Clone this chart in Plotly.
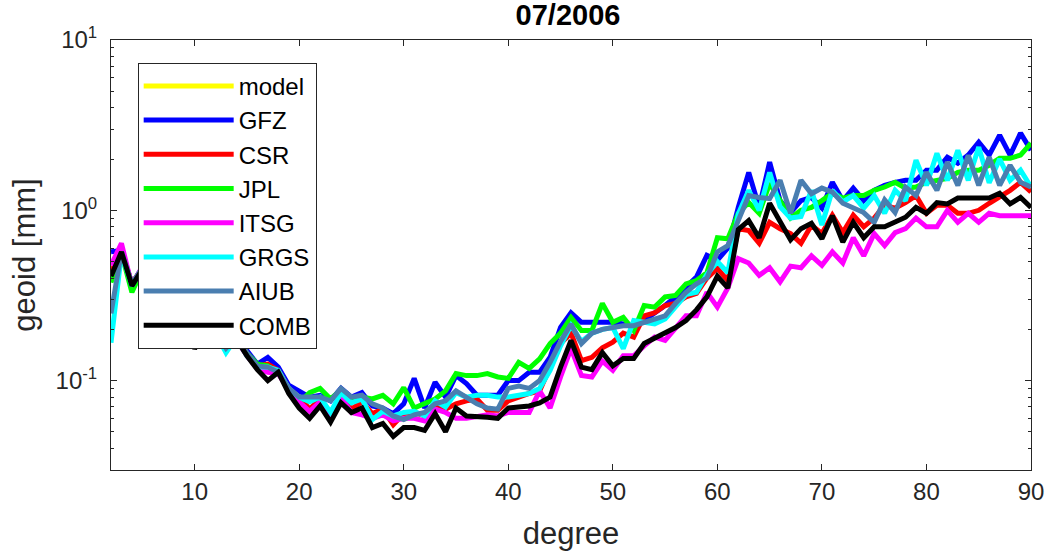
import plotly.graph_objects as go

degrees = list(range(2, 91))

series_names = ["model", "GFZ", "CSR", "JPL", "ITSG", "GRGS", "AIUB", "COMB"]
series_colors = ["#FFFF00", "#0000FF", "#FF0000", "#00FF00", "#FF00FF", "#00FFFF", "#4A7EB0", "#000000"]

model = [None] * len(degrees)

gfz = [0.57, 0.58, 0.37, 0.46, 0.40, 0.34, 0.30, 0.24, 0.19, 0.195,
       0.19, 0.16, 0.18, 0.15, 0.125, 0.137, 0.12, 0.094, 0.087, 0.08,
       0.082, 0.076, 0.09, 0.08, 0.085, 0.071, 0.069, 0.064, 0.073, 0.103,
       0.069, 0.098, 0.08, 0.107, 0.096, 0.082, 0.082, 0.082, 0.10, 0.10,
       0.112, 0.112, 0.137, 0.205, 0.25, 0.22, 0.22, 0.22, 0.22, 0.215,
       0.21, 0.226, 0.248, 0.276, 0.31, 0.353, 0.405, 0.544, 0.51, 0.60,
       1.04, 1.67, 1.04, 1.92, 1.14, 0.97, 1.14, 1.19, 1.03, 1.46,
       1.14, 1.35, 1.14, 1.31, 1.40, 1.46, 1.50, 1.50, 1.72, 1.72,
       2.05, 1.89, 2.11, 2.51, 2.11, 2.76, 2.11, 2.84, 2.25]

csr = [0.43, 0.58, 0.37, 0.46, 0.40, 0.34, 0.30, 0.24, 0.18, 0.19,
       0.19, 0.155, 0.18, 0.145, 0.122, 0.125, 0.115, 0.09, 0.08, 0.068,
       0.078, 0.062, 0.082, 0.068, 0.075, 0.064, 0.068, 0.055, 0.064, 0.065,
       0.062, 0.073, 0.068, 0.073, 0.076, 0.078, 0.067, 0.067, 0.076, 0.08,
       0.084, 0.087, 0.12, 0.165, 0.19, 0.131, 0.137, 0.156, 0.168, 0.19,
       0.18, 0.24, 0.25, 0.276, 0.284, 0.31, 0.325, 0.40, 0.456, 0.387,
       0.78, 0.76, 0.64, 0.85, 0.78, 0.73, 0.64, 0.816, 0.73, 0.935,
       0.74, 0.935, 0.80, 0.90, 1.07, 1.03, 1.11, 1.22, 0.96, 1.07,
       1.07, 0.96, 0.96, 1.0, 1.10, 1.19, 1.31, 1.46, 1.28]

jpl = [0.377, 0.56, 0.33, 0.45, 0.39, 0.33, 0.29, 0.235, 0.185, 0.19,
       0.19, 0.155, 0.175, 0.145, 0.125, 0.122, 0.11, 0.09, 0.074, 0.085,
       0.09, 0.078, 0.088, 0.076, 0.08, 0.078, 0.082, 0.073, 0.091, 0.069,
       0.073, 0.078, 0.087, 0.11, 0.107, 0.107, 0.11, 0.105, 0.103, 0.128,
       0.118, 0.134, 0.165, 0.19, 0.235, 0.197, 0.197, 0.284, 0.22, 0.235,
       0.197, 0.276, 0.27, 0.31, 0.316, 0.37, 0.387, 0.43, 0.69, 0.68,
       0.96, 1.11, 0.96, 1.44, 1.14, 0.90, 1.0, 1.04, 1.14, 1.26,
       1.18, 1.22, 1.22, 1.31, 1.37, 1.46, 1.35, 1.37, 1.46, 1.50,
       1.54, 1.67, 1.72, 1.72, 1.84, 2.02, 2.02, 2.11, 2.48]

itsg = [0.475, 0.64, 0.36, 0.47, 0.40, 0.34, 0.30, 0.24, 0.18, 0.19,
        0.185, 0.15, 0.175, 0.14, 0.118, 0.112, 0.11, 0.088, 0.075, 0.066,
        0.075, 0.06, 0.08, 0.065, 0.063, 0.06, 0.063, 0.058, 0.06, 0.06,
        0.058, 0.068, 0.065, 0.06, 0.06, 0.062, 0.063, 0.062, 0.065, 0.065,
        0.065, 0.087, 0.069, 0.105, 0.154, 0.107, 0.105, 0.13, 0.115, 0.14,
        0.14, 0.16, 0.18, 0.172, 0.205, 0.24, 0.24, 0.33, 0.27, 0.35,
        0.52, 0.49, 0.415, 0.46, 0.38, 0.47, 0.46, 0.54, 0.475, 0.57,
        0.49, 0.69, 0.54, 0.73, 0.62, 0.74, 0.78, 0.90, 0.80, 0.80,
        1.0, 0.85, 0.96, 0.85, 0.96, 0.93, 0.93, 0.93, 0.93]

grgs = [0.167, 0.56, 0.36, 0.46, 0.40, 0.34, 0.30, 0.24, 0.18, 0.19,
        0.19, 0.146, 0.18, 0.14, 0.12, 0.12, 0.115, 0.09, 0.08, 0.075,
        0.08, 0.065, 0.085, 0.074, 0.078, 0.059, 0.066, 0.062, 0.065, 0.066,
        0.062, 0.076, 0.07, 0.085, 0.08, 0.082, 0.082, 0.08, 0.08, 0.082,
        0.084, 0.09, 0.115, 0.16, 0.21, 0.17, 0.19, 0.20, 0.205, 0.154,
        0.225, 0.22, 0.215, 0.23, 0.27, 0.32, 0.33, 0.42, 0.50, 0.43,
        0.95, 1.31, 1.0, 1.67, 1.05, 0.90, 0.92, 1.31, 0.82, 1.31,
        1.12, 1.22, 1.03, 1.22, 0.96, 1.31, 1.14, 1.97, 1.40, 2.16,
        1.50, 2.25, 1.50, 2.35, 1.45, 2.0, 1.50, 1.72, 1.37]

aiub = [0.248, 0.57, 0.37, 0.46, 0.40, 0.34, 0.30, 0.24, 0.185, 0.19,
        0.19, 0.155, 0.18, 0.145, 0.122, 0.12, 0.112, 0.09, 0.08, 0.08,
        0.08, 0.076, 0.09, 0.08, 0.082, 0.073, 0.069, 0.062, 0.059, 0.063,
        0.065, 0.073, 0.076, 0.087, 0.08, 0.073, 0.069, 0.068, 0.09, 0.093,
        0.09, 0.10, 0.128, 0.17, 0.215, 0.165, 0.19, 0.20, 0.205, 0.21,
        0.21, 0.22, 0.232, 0.24, 0.284, 0.33, 0.37, 0.40, 0.57, 0.62,
        0.87, 1.22, 1.19, 1.17, 1.50, 0.96, 1.50, 1.25, 1.35, 1.28,
        1.10, 1.04, 0.97, 0.85, 1.15, 0.97, 1.37, 1.22, 1.67, 1.31,
        1.92, 1.40, 2.10, 1.40, 2.05, 1.40, 1.84, 1.46, 1.37]

comb = [0.41, 0.57, 0.36, 0.45, 0.39, 0.33, 0.29, 0.23, 0.154, 0.197,
        0.19, 0.16, 0.175, 0.14, 0.116, 0.10, 0.112, 0.084, 0.069, 0.06,
        0.071, 0.057, 0.074, 0.065, 0.069, 0.053, 0.056, 0.047, 0.053, 0.053,
        0.051, 0.064, 0.05, 0.069, 0.062, 0.062, 0.061, 0.06, 0.069, 0.07,
        0.071, 0.074, 0.08, 0.12, 0.172, 0.12, 0.116, 0.146, 0.122, 0.135,
        0.135, 0.165, 0.177, 0.19, 0.205, 0.225, 0.26, 0.31, 0.41, 0.35,
        0.77, 0.87, 0.69, 1.10, 0.85, 0.67, 0.78, 0.84, 0.68, 0.93,
        0.65, 0.85, 0.69, 0.80, 0.80, 0.85, 0.91, 1.04, 0.96, 1.11,
        1.09, 1.18, 1.18, 1.19, 1.18, 1.26, 1.09, 1.19, 1.04]

series_values = [model, gfz, csr, jpl, itsg, grgs, aiub, comb]

y_tickvals = [0.1, 1, 10]
y_ticktext = ["10<sup>-1</sup>", "10<sup>0</sup>", "10<sup>1</sup>"]
y_minor_vals = [0.04, 0.05, 0.06, 0.07, 0.08, 0.09,
                0.2, 0.3, 0.4, 0.5, 0.6, 0.7, 0.8, 0.9,
                2, 3, 4, 5, 6, 7, 8, 9]
x_tickvals = [10, 20, 30, 40, 50, 60, 70, 80, 90]

FONT = "Liberation Sans, Arial, Helvetica, sans-serif"
AX = "#262626"

fig = go.Figure()
for i, (name, color, vals) in enumerate(zip(series_names, series_colors, series_values)):
    fig.add_trace(go.Scatter(
        x=degrees, y=vals, mode="lines", name=name,
        line=dict(color=color, width=5),
        legendgroup=f"g{i}",
    ))

fig.update_layout(
    width=1056, height=556,
    margin=dict(l=111, r=14, t=40, b=86),
    paper_bgcolor="white", plot_bgcolor="white",
    font=dict(family=FONT, color=AX, size=24),
    title=dict(text="<b>07/2006</b>", x=568 / 1056, xanchor="center",
               y=1 - 15 / 556, yanchor="middle",
               font=dict(size=29, color="#000000", family=FONT)),
    legend=dict(
        x=0.029, y=0.947, xanchor="left", yanchor="top",
        bgcolor="white", bordercolor="#262626", borderwidth=1,
        font=dict(size=24, color="#000000", family=FONT),
        itemwidth=90, tracegroupgap=0,
    ),
    showlegend=True,
)

fig.update_xaxes(
    range=[2, 90], tickvals=x_tickvals,
    ticks="inside", ticklen=6, tickcolor=AX,
    showline=True, linecolor=AX, linewidth=1, mirror="ticks",
    showgrid=False, zeroline=False,
    tickfont=dict(size=24, color=AX),
    title=dict(text="degree", font=dict(size=31, color=AX), standoff=18),
)
fig.update_yaxes(
    type="log", range=[-1.525, 1],
    tickvals=y_tickvals, ticktext=y_ticktext,
    ticks="inside", ticklen=6, tickcolor=AX,
    minor=dict(tickmode="array", tickvals=y_minor_vals, ticks="inside",
               ticklen=3, tickcolor=AX, showgrid=False),
    showline=True, linecolor=AX, linewidth=1, mirror="ticks",
    showgrid=False, zeroline=False,
    tickfont=dict(size=24, color=AX),
    ticklabelstandoff=8,
    title=dict(text="geoid [mm]", font=dict(size=31, color=AX), standoff=10),
)

fig.write_html("out.html")
